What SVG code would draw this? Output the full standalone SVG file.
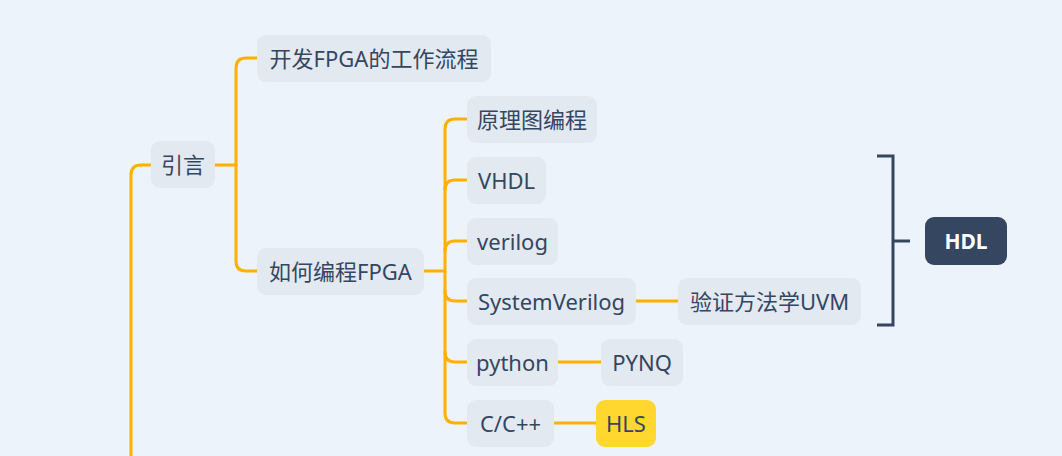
<svg xmlns="http://www.w3.org/2000/svg" width="1062" height="456" viewBox="0 0 1062 456">
<style>
.n rect{fill:#E2E9F1}
.n text{font-family:"Noto Sans","Noto Sans CJK SC",sans-serif;font-size:22px;fill:#344660;text-anchor:middle}
.c path{fill:none;stroke:#FFB000;stroke-width:3;stroke-linecap:round}
.b path{fill:none;stroke:#344660;stroke-width:3}
</style>
<rect width="1062" height="456" fill="#ECF3FA"/>
<g class="c" id="connectors">
<path d="M131 456 V175 Q131 165 141 165 H151"/>
<path d="M215 165 H236"/>
<path d="M257 58 H246 Q236 58 236 68 V261 Q236 271 246 271 H257"/>
<path d="M424 271 H445"/>
<path d="M467 119 H455 Q445 119 445 129 V413 Q445 423 455 423 H467"/>
<path d="M467 180 H455 Q445 180 445 190"/>
<path d="M467 241 H455 Q445 241 445 251"/>
<path d="M467 301 H455 Q445 301 445 291"/>
<path d="M467 362 H455 Q445 362 445 352"/>
<path d="M636 301 H678"/>
<path d="M558 362 H601"/>
<path d="M554 423 H596"/>
</g>
<g class="b" id="bracket">
<path d="M877 156 H893 V325 H877"/>
<path d="M893 241 H910"/>
</g>
<g class="n" id="n-yinyan"><rect x="151" y="141" width="64" height="47" rx="9"/><text x="183" y="172.5">引言</text></g>
<g class="n" id="n-kaifa"><rect x="257" y="35" width="234" height="47" rx="9"/><text x="374" y="66.5">开发FPGA的工作流程</text></g>
<g class="n" id="n-ruhe"><rect x="257" y="248" width="167" height="47" rx="9"/><text x="340.5" y="279.5">如何编程FPGA</text></g>
<g class="n" id="n-yuanli"><rect x="467" y="96" width="130" height="47" rx="9"/><text x="532" y="127.5">原理图编程</text></g>
<g class="n" id="n-vhdl"><rect x="467" y="157" width="79" height="47" rx="9"/><text x="506.5" y="188.5">VHDL</text></g>
<g class="n" id="n-verilog"><rect x="467" y="218" width="91" height="47" rx="9"/><text x="512.5" y="249.5">verilog</text></g>
<g class="n" id="n-sv"><rect x="467" y="278" width="169" height="47" rx="9"/><text x="551.5" y="309.5">SystemVerilog</text></g>
<g class="n" id="n-uvm"><rect x="678" y="278" width="183" height="47" rx="9"/><text x="769.5" y="309.5">验证方法学UVM</text></g>
<g class="n" id="n-python"><rect x="467" y="339" width="91" height="47" rx="9"/><text x="512.5" y="370.5">python</text></g>
<g class="n" id="n-pynq"><rect x="601" y="339" width="82" height="47" rx="9"/><text x="642" y="370.5">PYNQ</text></g>
<g class="n" id="n-cpp"><rect x="467" y="400" width="87" height="47" rx="9"/><text x="510.5" y="431.5">C/C++</text></g>
<g class="n" id="n-hls"><rect x="596" y="400" width="60" height="47" rx="9" style="fill:#FFD72F"/><text x="626" y="431.5">HLS</text></g>
<g class="n" id="n-hdl"><rect x="925" y="217" width="82" height="48" rx="9" style="fill:#344660"/><text x="966" y="248.5" style="fill:#FFFFFF;font-weight:bold;font-size:21px">HDL</text></g>
</svg>
